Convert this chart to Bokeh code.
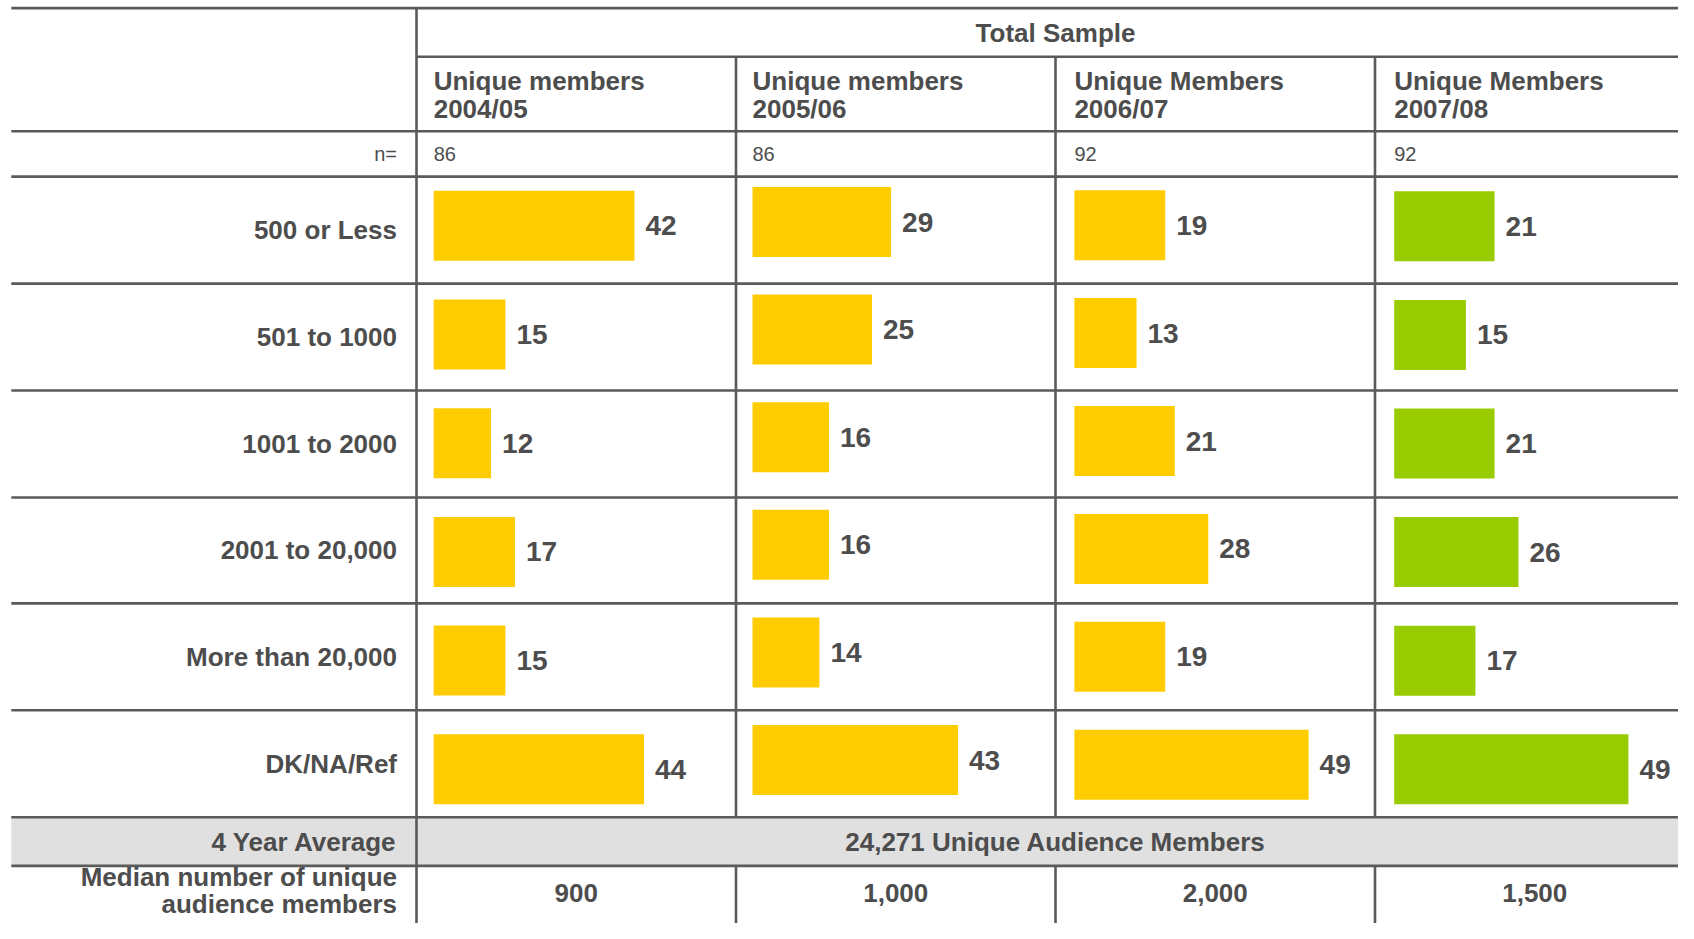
from bokeh.plotting import figure
from bokeh.models import Range1d
from bokeh.core.properties import value
from bokeh.embed import file_html
from bokeh.resources import INLINE

# ---------------- data ----------------
categories = ["500 or Less", "501 to 1000", "1001 to 2000",
              "2001 to 20,000", "More than 20,000", "DK/NA/Ref"]
title_line1 = ["Unique members", "Unique members", "Unique Members", "Unique Members"]
title_line2 = ["2004/05", "2005/06", "2006/07", "2007/08"]
sample_sizes = [86, 86, 92, 92]
v_2004_05 = [42, 15, 12, 17, 15, 44]
v_2005_06 = [29, 25, 16, 16, 14, 43]
v_2006_07 = [19, 13, 21, 28, 19, 49]
v_2007_08 = [21, 15, 21, 26, 17, 49]
medians = ["900", "1,000", "2,000", "1,500"]
group_title = "Total Sample"
n_label = "n="
average_label = "4 Year Average"
average_text = "24,271 Unique Audience Members"
median_label = ["Median number of unique", "audience members"]

series = [v_2004_05, v_2005_06, v_2006_07, v_2007_08]
bar_colors = ["#FFCC00", "#FFCC00", "#FFCC00", "#99CC00"]

# ---------------- layout (picture pixel coordinates) ----------------
TXT = "#4d4d4d"
LINE = "#5a5a5a"
FONT = value("Liberation Sans")
X_LEFT, X_SPLIT, X_RIGHT = 10.8, 416.0, 1694.0
COL_W = (X_RIGHT - X_SPLIT) / 4
col_left = [X_SPLIT + k * COL_W for k in range(4)]
bar_origin_off = [17.2, 16.5, 18.9, 19.2]
PX_PER_UNIT = 4.78
Y_TOP, Y_GROUP, Y_HEAD = 7.6, 56.2, 130.7
row_lines = [176.1, 283.1, 390.0, 497.0, 602.9, 709.8, 816.8]
Y_BAND_TOP, Y_BAND_BOT = 816.8, 865.4
bar_y0 = [225.3, 221.5, 224.7, 225.8]
bar_pitch = [108.7, 107.6, 107.9, 108.6]
BAR_H = 70

W, H = 1678, 923
p = figure(width=W, height=H, x_range=Range1d(0, W), y_range=Range1d(H, 0),
           output_backend="svg", toolbar_location=None, min_border=0,
           x_axis_location=None, y_axis_location=None,
           background_fill_color="white", border_fill_color="white",
           outline_line_color=None)
p.grid.visible = False

# gray band
p.quad(left=X_LEFT, right=X_RIGHT, top=Y_BAND_TOP, bottom=Y_BAND_BOT,
       fill_color="#e0e0e0", line_color=None)

# horizontal lines
hx0 = [X_LEFT, X_SPLIT, X_LEFT] + [X_LEFT] * len(row_lines) + [X_LEFT]
hy = [Y_TOP, Y_GROUP, Y_HEAD] + row_lines + [Y_BAND_BOT]
p.segment(x0=hx0, y0=hy, x1=[X_RIGHT] * len(hy), y1=hy, line_color=LINE, line_width=2.6)
# vertical lines
vx = [X_SPLIT]
vy0 = [Y_TOP]
vy1 = [940]
for k in range(1, 4):
    vx += [col_left[k], col_left[k]]
    vy0 += [Y_GROUP, Y_BAND_BOT]
    vy1 += [Y_BAND_TOP, 940]
p.segment(x0=vx, y0=vy0, x1=vx, y1=vy1, line_color=LINE, line_width=2.6)

bold = dict(text_font=FONT, text_font_style="bold", text_color=TXT, text_baseline="middle")

# group title
p.text(x=[(X_SPLIT + X_RIGHT) / 2], y=[32.4], text=[group_title], text_align="center",
       text_font_size="26px", **bold)

# column headers & n
hx = [col_left[k] + bar_origin_off[k] for k in range(4)]
p.text(x=hx, y=[80] * 4, text=title_line1, text_align="left", text_font_size="26px", **bold)
p.text(x=hx, y=[108] * 4, text=title_line2, text_align="left", text_font_size="26px", **bold)
p.text(x=hx, y=[153.4] * 4, text=[str(n) for n in sample_sizes], text_align="left",
       text_font=FONT, text_font_size="20px", text_color=TXT, text_baseline="middle")
p.text(x=[396.5], y=[153.4], text=[n_label], text_align="right",
       text_font=FONT, text_font_size="20px", text_color=TXT, text_baseline="middle")

# row labels
row_centers = [(row_lines[i] + row_lines[i + 1]) / 2 for i in range(len(categories))]
p.text(x=[396.5] * len(categories), y=row_centers, text=categories, text_align="right",
       text_font_size="26px", **bold)

# bars per column, each with its own value scale
extra = {}
for k in range(4):
    origin = col_left[k] + bar_origin_off[k]
    extra[f"c{k}"] = Range1d((0 - origin) / PX_PER_UNIT, (W - origin) / PX_PER_UNIT)
p.extra_x_ranges = extra

for k, vals in enumerate(series):
    ys = [bar_y0[k] + i * bar_pitch[k] for i in range(len(vals))]
    p.hbar(y=ys, left=0, right=vals, height=BAR_H, x_range_name=f"c{k}",
           fill_color=bar_colors[k], line_color=None)
    p.text(x=vals, y=ys, text=[str(v) for v in vals], x_range_name=f"c{k}",
           x_offset=11, text_align="left", text_font_size="28px", **bold)

# average band
p.text(x=[396.5], y=[841.6], text=[average_label], text_align="right",
       text_font_size="26px", **bold)
p.text(x=[(X_SPLIT + X_RIGHT) / 2], y=[841.6], text=[average_text], text_align="center",
       text_font_size="26px", **bold)

# median row (nudged up so the second line fits inside the window)
p.text(x=[396.5, 396.5], y=[876, 903], text=median_label, text_align="right",
       text_font_size="26px", **bold)
p.text(x=[c + COL_W / 2 for c in col_left], y=[892] * 4, text=medians, text_align="center",
       text_font_size="26px", **bold)

open("out.html", "w").write(file_html(p, INLINE))
